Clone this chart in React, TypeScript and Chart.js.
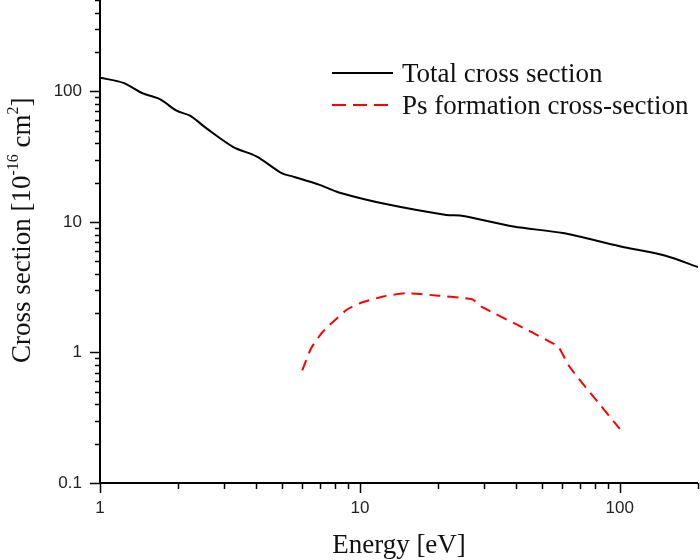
import React, { useEffect, useRef } from "react";
import { Chart, registerables } from "chart.js";

Chart.register(...registerables);

const totalEnergy = [1, 1.23, 1.45, 1.7, 1.97, 2.22, 2.57, 3.26, 4.0, 5.0, 5.54, 7.0, 8.3, 13, 21.5, 25, 39, 60.5, 100, 150, 200];
const totalCross = [127, 116, 97, 87, 71, 65, 52, 37.4, 31.7, 23.6, 22.2, 19.2, 16.8, 13.5, 11.3, 11.1, 9.2, 8.2, 6.5, 5.5, 4.5];

const psEnergy = [6, 6.5, 7.2, 8.9, 10, 12.3, 15, 20, 27, 29.4, 44, 55, 58, 64, 77, 100];
const psCross = [0.73, 1.08, 1.44, 2.12, 2.38, 2.68, 2.84, 2.72, 2.55, 2.24, 1.49, 1.18, 1.11, 0.78, 0.49, 0.26];

const xTickValues = [1, 10, 100];
const yTickValues = [0.1, 1, 10, 100];
const xMin = 1;
const xMax = 200;
const yMin = 0.1;
const yMax = 500;

const legendLabels = ["Total cross section", "Ps formation cross-section"];
const xTitle = "Energy [eV]";

const SERIF = "'Liberation Serif', 'Times New Roman', serif";
const SANS = "'Liberation Sans', Arial, sans-serif";

function logMinorValues(min: number, max: number) {
  const out: { v: number; major: boolean }[] = [];
  for (let d = Math.floor(Math.log10(min)); d <= Math.ceil(Math.log10(max)); d++) {
    for (let m = 1; m <= 9; m++) {
      const v = m * Math.pow(10, d);
      if (v >= min * 0.999 && v <= max * 1.001) out.push({ v, major: m === 1 });
    }
  }
  return out;
}

const decorPlugin = {
  id: "decor",
  afterDraw(chart: any) {
    const ctx = chart.ctx as CanvasRenderingContext2D;
    const { left, right, top, bottom } = chart.chartArea;
    const xs = chart.scales.x;
    const ys = chart.scales.y;
    ctx.save();
    ctx.strokeStyle = "#000";
    ctx.lineWidth = 2;
    ctx.beginPath();
    ctx.moveTo(left, top);
    ctx.lineTo(left, bottom);
    ctx.lineTo(right, bottom);
    ctx.stroke();

    ctx.lineWidth = 1.5;
    for (const t of logMinorValues(yMin, yMax)) {
      const y = Math.round(ys.getPixelForValue(t.v)) + 0.5;
      const len = t.major ? 10 : 5;
      ctx.beginPath();
      ctx.moveTo(left - len, y);
      ctx.lineTo(left, y);
      ctx.stroke();
    }
    for (const t of logMinorValues(xMin, xMax)) {
      const x = Math.round(xs.getPixelForValue(t.v)) + 0.5;
      const len = t.major ? 10 : 6;
      ctx.beginPath();
      ctx.moveTo(x, bottom);
      ctx.lineTo(x, bottom + len);
      ctx.stroke();
    }

    // x title
    ctx.fillStyle = "#111";
    ctx.font = `27px ${SERIF}`;
    ctx.textAlign = "center";
    ctx.textBaseline = "alphabetic";
    ctx.fillText(xTitle, (left + right) / 2, 553);

    // y title (rotated) with superscripts
    ctx.save();
    ctx.translate(29.5, 363);
    ctx.rotate(-Math.PI / 2);
    ctx.textAlign = "left";
    const parts: { t: string; sup: boolean }[] = [
      { t: "Cross section [10", sup: false },
      { t: "-16", sup: true },
      { t: " cm", sup: false },
      { t: "2", sup: true },
      { t: "]", sup: false },
    ];
    let tx = 0;
    for (const p of parts) {
      ctx.font = p.sup ? `16px ${SERIF}` : `27px ${SERIF}`;
      ctx.fillText(p.t, tx, p.sup ? -11.5 : 0);
      tx += ctx.measureText(p.t).width;
    }
    ctx.restore();

    // legend
    ctx.font = `27px ${SERIF}`;
    ctx.textAlign = "left";
    ctx.lineWidth = 2;
    ctx.strokeStyle = "#000";
    ctx.beginPath();
    ctx.moveTo(332, 73);
    ctx.lineTo(393, 73);
    ctx.stroke();
    ctx.fillText(legendLabels[0], 402, 82);
    ctx.strokeStyle = "#ff0000";
    ctx.setLineDash([14, 7]);
    ctx.beginPath();
    ctx.moveTo(332, 105);
    ctx.lineTo(393, 105);
    ctx.stroke();
    ctx.setLineDash([]);
    ctx.fillText(legendLabels[1], 402, 114);
    ctx.restore();
  },
};

export default function App() {
  const ref = useRef<HTMLCanvasElement | null>(null);
  useEffect(() => {
    if (!ref.current) return;
    const chart = new Chart(ref.current, {
      type: "line",
      data: {
        datasets: [
          {
            label: legendLabels[0],
            data: totalEnergy.map((e, i) => ({ x: e, y: totalCross[i] })),
            borderColor: "#000",
            borderWidth: 2,
            pointRadius: 0,
            fill: false,
            tension: 0.3,
          },
          {
            label: legendLabels[1],
            data: psEnergy.map((e, i) => ({ x: e, y: psCross[i] })),
            borderColor: "#ff0000",
            borderWidth: 2,
            borderDash: [11, 7],
            pointRadius: 0,
            fill: false,
            tension: 0.2,
          },
        ],
      },
      options: {
        responsive: false,
        animation: false,
        layout: { autoPadding: false, padding: { top: 0, right: 2, left: 0, bottom: 0 } },
        plugins: { legend: { display: false }, tooltip: { enabled: false } },
        scales: {
          x: {
            type: "logarithmic",
            min: xMin,
            max: xMax,
            grid: { display: false, drawTicks: false },
            border: { display: false },
            afterBuildTicks: (s: any) => {
              s.ticks = xTickValues.map((v) => ({ value: v }));
            },
            afterFit: (s: any) => {
              s.height = 77;
              s.paddingLeft = 0;
              s.paddingRight = 0;
              s.paddingTop = 0;
              s.paddingBottom = 0;
            },
            ticks: {
              autoSkip: false,
              maxRotation: 0,
              padding: 15,
              color: "#222",
              font: { family: SANS, size: 17 },
              callback: (v: any) => String(v),
            },
          },
          y: {
            type: "logarithmic",
            min: yMin,
            max: yMax,
            grid: { display: false, drawTicks: false },
            border: { display: false },
            afterBuildTicks: (s: any) => {
              s.ticks = yTickValues.map((v) => ({ value: v }));
            },
            afterFit: (s: any) => {
              s.width = 100;
              s.paddingLeft = 0;
              s.paddingRight = 0;
              s.paddingTop = 0;
              s.paddingBottom = 0;
            },
            ticks: {
              autoSkip: false,
              padding: 18,
              color: "#222",
              font: { family: SANS, size: 17 },
              callback: (v: any) => String(v),
            },
          },
        },
      },
      plugins: [decorPlugin],
    });
    return () => chart.destroy();
  }, []);
  return (
    <div style={{ position: "absolute", left: 0, top: 0, width: 700, height: 560, background: "#fff" }}>
      <canvas ref={ref} width={700} height={560} style={{ display: "block" }} />
    </div>
  );
}
